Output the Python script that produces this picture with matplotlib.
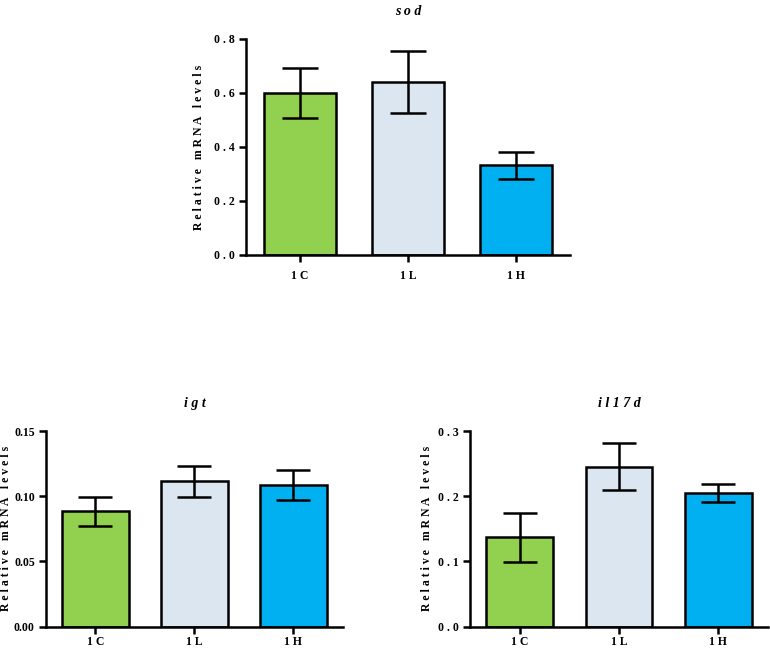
import matplotlib
matplotlib.use("Agg")
import matplotlib.pyplot as plt

groups = ["1C", "1L", "1H"]
colors = ["#92d050", "#dce6f1", "#00b0f0"]

sod_mean = [0.600, 0.640, 0.332]
sod_err = [0.094, 0.115, 0.050]
igt_mean = [0.0885, 0.1113, 0.1088]
igt_err = [0.0112, 0.0118, 0.0115]
il17d_mean = [0.137, 0.245, 0.205]
il17d_err = [0.038, 0.036, 0.0135]

plt.rcParams['font.family'] = ['Liberation Serif', 'DejaVu Serif']
plt.rcParams['font.weight'] = 'bold'


def spaced(s):
    return " ".join(s)


def panel(ax, mean, err, title, ylim, yticks, fmt, capsize, label_x, xpad):
    x = range(len(groups))
    ax.bar(x, mean, width=0.67, color=colors, edgecolor="black", linewidth=1.8, zorder=2)
    ax.errorbar(x, mean, yerr=err, fmt="none", ecolor="black", elinewidth=1.8,
                capsize=capsize, capthick=1.8, zorder=3)
    ax.set_xlim(-0.5, 2.5)
    ax.set_ylim(*ylim)
    ax.set_yticks(yticks)
    ax.set_yticklabels([spaced(fmt.format(v)) if len(fmt.format(v)) < 4 else fmt.format(v)
                        for v in yticks])
    ax.set_xticks(list(x))
    ax.set_xticklabels([spaced(g) for g in groups])
    for s in ["top", "right"]:
        ax.spines[s].set_visible(False)
    for s in ["left", "bottom"]:
        ax.spines[s].set_linewidth(1.8)
    ax.tick_params(width=1.8, length=5, labelsize=8.5, pad=3)
    ax.tick_params(axis="x", pad=xpad)
    ax.set_ylabel(spaced("Relative") + "   " + spaced("mRNA") + "   " + spaced("levels"),
                  fontsize=8.5, fontweight="bold")
    ax.yaxis.set_label_coords(label_x, 0.5)
    ax.set_title(title, fontsize=10, fontweight="bold", fontstyle="italic", pad=17)


fig = plt.figure(figsize=(7.7, 6.51), dpi=100)
ax1 = fig.add_axes([0.3195, 0.6083, 0.4208, 0.3318])
ax2 = fig.add_axes([0.0597, 0.0375, 0.3857, 0.3004])
ax3 = fig.add_axes([0.6104, 0.0375, 0.387, 0.3004])

panel(ax1, sod_mean, sod_err, "s o d", (0, 0.8), [0.0, 0.2, 0.4, 0.6, 0.8], "{:.1f}", 13, -0.127, 6)
panel(ax2, igt_mean, igt_err, "i g t", (0, 0.15), [0.0, 0.05, 0.10, 0.15], "{:.2f}", 12, -0.115, 2)
panel(ax3, il17d_mean, il17d_err, "i l 1 7 d", (0, 0.3), [0.0, 0.1, 0.2, 0.3], "{:.1f}", 12, -0.124, 2)

fig.savefig("out.png", dpi=100)
